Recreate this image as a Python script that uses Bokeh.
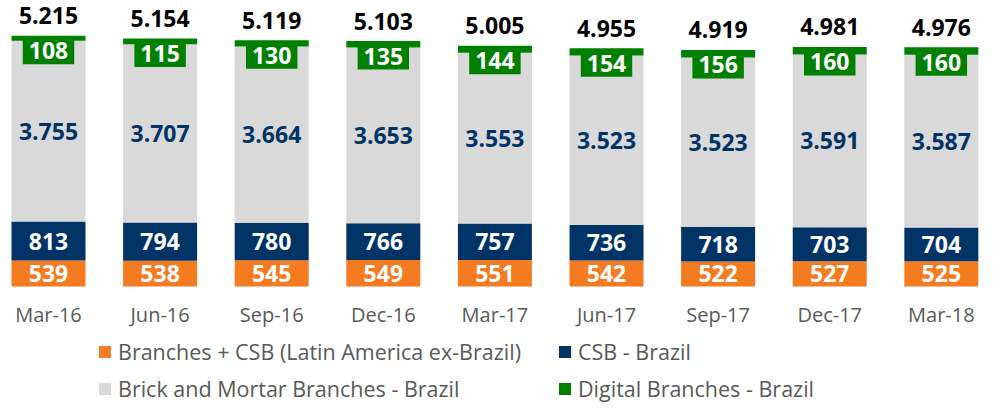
from bokeh.plotting import figure
from bokeh.models import ColumnDataSource, Range1d, Legend, LegendItem
from bokeh.core.properties import value
from bokeh.embed import file_html
from bokeh.resources import INLINE

quarters = ["Mar-16", "Jun-16", "Sep-16", "Dec-16", "Mar-17", "Jun-17", "Sep-17", "Dec-17", "Mar-18"]
latam = [539, 538, 545, 549, 551, 542, 522, 527, 525]
csb_brazil = [813, 794, 780, 766, 757, 736, 718, 703, 704]
brick_mortar = [3755, 3707, 3664, 3653, 3553, 3523, 3523, 3591, 3587]
digital = [108, 115, 130, 135, 144, 154, 156, 160, 160]
series_names = [
    "Branches + CSB (Latin America ex-Brazil)",
    "CSB - Brazil",
    "Brick and Mortar Branches - Brazil",
    "Digital Branches - Brazil",
]

ORANGE = "#F47B20"
NAVY = "#003366"
GRAY = "#D9D9D9"
GREEN = "#008000"
LABEL_GRAY = "#595959"


def fmt(v):
    return f"{v:,}".replace(",", ".")


n = len(quarters)
xs = list(range(n))
top1 = list(latam)
top2 = [a + b for a, b in zip(top1, csb_brazil)]
top3 = [a + b for a, b in zip(top2, brick_mortar)]
top4 = [a + b for a, b in zip(top3, digital)]

src = ColumnDataSource(dict(
    x=xs,
    base=[0] * n,
    top1=top1, top2=top2, top3=top3, top4=top4,
    mid1=[t / 2 for t in top1],
    mid2=[(a + b) / 2 for a, b in zip(top1, top2)],
    mid3=[(a + b) / 2 for a, b in zip(top2, top3)],
    lab1=[fmt(v) for v in latam],
    lab2=[fmt(v) for v in csb_brazil],
    lab3=[fmt(v) for v in brick_mortar],
    lab4=[fmt(v) for v in digital],
    labt=[fmt(v) for v in top4],
    cat=quarters,
))

p = figure(width=979, height=404, x_range=Range1d(-0.43, 8.342), y_range=Range1d(-2453, 5946),
           x_axis_location=None, y_axis_location=None, min_border=0,
           toolbar_location=None, output_backend="svg", outline_line_color=None)
p.grid.visible = False

W = 0.663
r1 = p.vbar(x="x", bottom="base", top="top1", width=W, source=src, fill_color=ORANGE, line_color=None)
r2 = p.vbar(x="x", bottom="top1", top="top2", width=W, source=src, fill_color=NAVY, line_color=None)
r3 = p.vbar(x="x", bottom="top2", top="top3", width=W, source=src, fill_color=GRAY, line_color=None)
r4 = p.vbar(x="x", bottom="top3", top="top4", width=W, source=src, fill_color=GREEN, line_color=None)

bold = dict(text_font=value("Open Sans"), text_font_style="bold", text_font_size="23px",
            text_align="center", text_baseline="middle")
p.text(x="x", y="mid1", text="lab1", source=src, text_color="white", **bold)
p.text(x="x", y="mid2", text="lab2", source=src, text_color="white", **bold)
p.text(x="x", y="mid3", text="lab3", source=src, text_color=NAVY, **bold)
p.text(x="x", y="top4", text="lab4", source=src, text_color="white", y_offset=15,
       background_fill_color=GREEN, padding=dict(left=6, right=6, top=5, bottom=5), **bold)
p.text(x="x", y="top4", text="labt", source=src, text_color="black", y_offset=-20, **bold)

p.text(x="x", y="base", text="cat", source=src, text_color=LABEL_GRAY, y_offset=28,
       text_font=value("Open Sans"), text_font_size="20px", text_align="center", text_baseline="middle")

legend = Legend(
    items=[LegendItem(label=series_names[0], renderers=[r1]),
           LegendItem(label=series_names[1], renderers=[r2]),
           LegendItem(label=series_names[2], renderers=[r3]),
           LegendItem(label=series_names[3], renderers=[r4])],
    location=(97, 1), orientation="horizontal", ncols=2,
    padding=0, margin=0, spacing=8, glyph_width=15, glyph_height=15,
    label_standoff=6, label_width=431,
    label_text_font="Open Sans", label_text_font_size="21.5px", label_text_color=LABEL_GRAY,
    border_line_color=None, background_fill_alpha=0,
)
p.add_layout(legend)

open("out.html", "w").write(file_html(p, INLINE))
